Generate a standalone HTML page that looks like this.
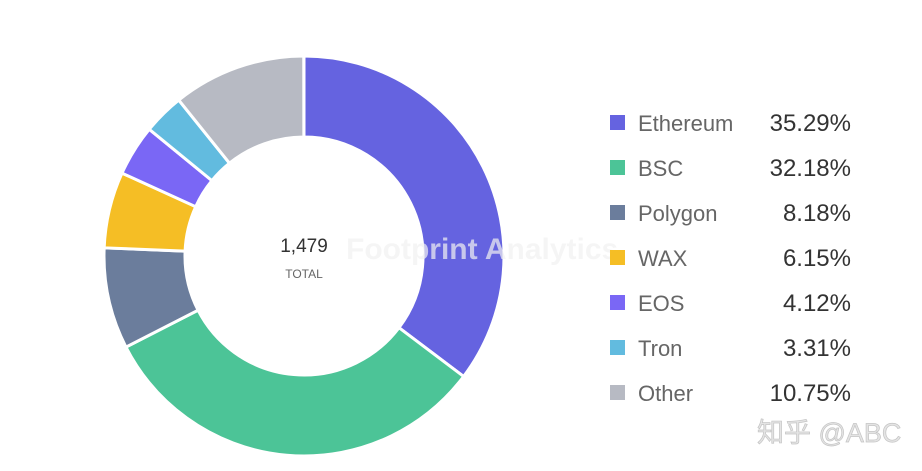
<!DOCTYPE html>
<html><head><meta charset="utf-8"><style>
html,body{margin:0;padding:0;background:#fff;width:922px;height:471px;overflow:hidden}
</style></head><body>
<svg id="s" width="922" height="471" xmlns="http://www.w3.org/2000/svg" font-family="Liberation Sans, sans-serif">
<g id="pie"></g>
<text x="346" y="259" font-size="30" font-weight="bold" fill="#f2f2f2" opacity="0.7">Footprint Analytics</text>
<text x="304" y="252" text-anchor="middle" font-size="19" fill="#333">1,479</text>
<text x="304" y="278" text-anchor="middle" font-size="12" fill="#666">TOTAL</text>
<g id="leg"></g>
<text x="757" y="442" font-size="27" fill="#e4e4e4" font-family="Liberation Sans, Noto Sans CJK SC, sans-serif" stroke="#c4c4c4" stroke-width="0.7">知乎 @ABC</text>
</svg>
<script>
var d=[["Ethereum",35.29,"#6563e0"],["BSC",32.18,"#4cc497"],["Polygon",8.18,"#6b7d9c"],["WAX",6.15,"#f5be25"],["EOS",4.12,"#7a67f5"],["Tron",3.31,"#62bbdf"],["Other",10.75,"#b7bac3"]];
var cx=304,cy=256,R=200,r=119,a=0,tot=100,h="",L="";
function p(rad,ang){return [cx+rad*Math.sin(ang),cy-rad*Math.cos(ang)]}
d.forEach(function(e,i){
 var a0=a/tot*2*Math.PI;a+=e[1];var a1=a/tot*2*Math.PI;var lg=(a1-a0)>Math.PI?1:0;
 var A=p(R,a0),B=p(R,a1),C=p(r,a1),D=p(r,a0);
 h+='<path d="M'+A+' A'+R+','+R+' 0 '+lg+' 1 '+B+' L'+C+' A'+r+','+r+' 0 '+lg+' 0 '+D+'Z" fill="'+e[2]+'" stroke="#fff" stroke-width="3"/>';
 var y=123+45*i;
 L+='<rect x="610" y="'+(y-8)+'" width="15" height="15" fill="'+e[2]+'"/>';
 L+='<text x="638" y="'+(y+8)+'" font-size="22" fill="#666">'+e[0]+'</text>';
 L+='<text x="851" y="'+(y+8)+'" font-size="24" fill="#333" text-anchor="end">'+e[1].toFixed(2)+'%</text>';
});
document.getElementById("pie").innerHTML=h;
document.getElementById("leg").innerHTML=L;
</script>
</body></html>
